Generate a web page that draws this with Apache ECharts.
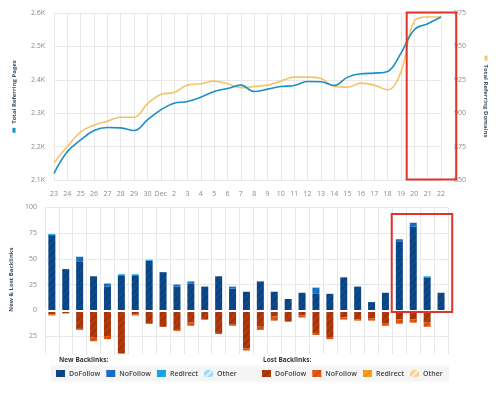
<!DOCTYPE html>
<html>
<head>
<meta charset="utf-8">
<script src="https://cdn.jsdelivr.net/npm/echarts@6/dist/echarts.min.js"></script>
<style>
html,body{margin:0;padding:0;background:#fff;}
#c{width:500px;height:395px;}
</style>
</head>
<body>
<div id="c"></div>
<script>
// ---- data ----
var days = ['23','24','25','26','27','28','29','30','Dec','2','3','4','5','6','7','8','9','10','11','12','13','14','15','16','17','18','19','20','21','22'];
var barDays = ['23','24','25','26','27','28','29','30','Dec','2','3','4','5','6','7','8','9','10','11','12','13','14','15','16','17','18','19','20','21'];
var referringPages = [2120,2185,2220,2248,2257,2256,2248,2280,2310,2330,2335,2348,2365,2374,2384,2365,2372,2380,2383,2395,2394,2383,2408,2418,2420,2425,2480,2550,2568,2588];
var referringDomains = [863,875,886,891,894,897,897,907,914,915.5,921,922,924,922,919,920,921,924,927,927,926,920,919.5,922.5,921,917.5,931,969,972,972];
var newDoFollow  = [73,40,47,33,23,34,34,48,37,23,26,23,33,21,18,28,18,11,17,16,16,32,23,8,17,67,81,32,17];
var newNoFollow  = [0,0,5,0,3,0,0,0,0,2,2,0,0,2,0,0,0,0,0,6,0,0,0,0,0,2,4,0,0];
var newRedirect  = [1,0,0,0,0,1,1,1,0,0,0,0,0,0,0,0,0,0,0,0,0,0,0,0,0,0,0,1,0];
var newOther     = [0,0,0,0,0,0,0,0,0,0,0,0,0,0,0,0,0,0,0,0,0,0,0,0,0,0,0,0,0];
var lostDoFollow = [-4,-3,-18,-26,-25,-42,-4,-13,-16,-19,-12,-9,-22,-14,-37,-16,-6,-11,-5,-22,-26,-7,-9,-8,-13,-9,-9,-12,-2];
var lostNoFollow = [-1,0,-1,-4,-3,0,-1,0,0,-1,-3,0,-1,-1,-2,-3,-4,0,-2,-2,-2,-2,-1,-2,-2,-4,-3,-4,0];
var lostRedirect = [0,0,0,0,0,0,0,0,0,0,0,0,0,0,0,0,0,0,0,0,0,0,0,0,0,0,0,0,0];
var lostOther    = [0,0,0,0,0,0,0,0,0,0,0,0,0,0,0,0,0,0,0,0,0,0,0,0,0,0,0,0,0];
var leftTicks = ['2.1K','2.2K','2.3K','2.4K','2.5K','2.6K'];

var chart = echarts.init(document.getElementById('c'), null, {renderer:'canvas'});
var FONT = '"Open Sans", sans-serif';
var gridLine = {show:true, lineStyle:{color:'#e8e8e8', width:1}};
var labelStyle = {color:'#8a8a8a', fontSize:7, fontFamily:FONT};
var nameStyle = {color:'#3d5468', fontSize:6, fontWeight:'bold', fontFamily:FONT};

function hatch(c){ return {symbol:'rect', symbolSize:1, dashArrayX:[1,0], dashArrayY:[1.5,2.5], rotation:-Math.PI/4, color:c}; }

function barSeries(name, data, stack, color, decal){
  var s = {name:name, type:'bar', xAxisIndex:1, yAxisIndex:2, stack:stack, data:data,
    barWidth:7, barGap:'-100%', itemStyle:{color:color}, emphasis:{disabled:true}};
  if (decal) s.itemStyle.decal = decal;
  return s;
}
var legendText = {color:'#444', fontSize:7, fontWeight:600, fontFamily:FONT};

var option = {
  animation:false,
  textStyle:{fontFamily:FONT},
  grid:[
    {left:43, right:52, top:13, height:167, containLabel:false},
    {left:43, right:52, top:207.3, height:154.5, containLabel:false}
  ],
  xAxis:[
    {type:'category', gridIndex:0, data:days, boundaryGap:false,
     axisLine:{show:false}, axisTick:{show:false},
     axisLabel:Object.assign({interval:0, margin:10}, labelStyle),
     splitLine:gridLine},
    {type:'category', gridIndex:1, data:barDays, boundaryGap:true,
     axisLine:{show:true, onZero:true, lineStyle:{color:'#ffffff', width:2}}, z:10,
     axisTick:{show:false}, axisLabel:{show:false},
     splitLine:Object.assign({interval:0}, gridLine)}
  ],
  yAxis:[
    {type:'value', gridIndex:0, min:2100, max:2600, interval:100,
     axisLine:{show:false}, axisTick:{show:false},
     axisLabel:Object.assign({margin:9, formatter:function(v){ return leftTicks[Math.round((v-2100)/100)]; }}, labelStyle),
     splitLine:gridLine,
     name:'{m|}{t|Total Referring Pages}', nameLocation:'middle', nameGap:33, nameRotate:90,
     nameTextStyle:{rich:{m:{backgroundColor:'#1b8fc6', width:5, height:3}, t:Object.assign({padding:[0,0,0,4]}, nameStyle)}}},
    {type:'value', gridIndex:0, min:850, max:975, interval:25, position:'right',
     axisLine:{show:false}, axisTick:{show:false},
     axisLabel:Object.assign({margin:13}, labelStyle),
     splitLine:{show:false},
     name:'{m|}{t|Total Referring Domains}', nameLocation:'middle', nameGap:42, nameRotate:-90,
     nameTextStyle:{rich:{m:{backgroundColor:'#f5c46a', width:5, height:3}, t:Object.assign({padding:[0,0,0,4]}, nameStyle)}}},
    {type:'value', gridIndex:1, min:-50, max:100, interval:25,
     axisLine:{show:false}, axisTick:{show:false},
     axisLabel:Object.assign({margin:8, showMinLabel:false, formatter:function(v){ return Math.abs(v); }}, labelStyle),
     splitLine:gridLine,
     name:'New & Lost Backlinks', nameLocation:'middle', nameGap:30, nameRotate:90,
     nameTextStyle:Object.assign({padding:[0,0,0,10]}, nameStyle)}
  ],
  legend:[
    {left:56, top:370, padding:0, itemWidth:9, itemHeight:7, itemGap:6, icon:'rect',
     textStyle:Object.assign({padding:[0,0,0,-1]}, legendText),
     formatter:function(n){ return n.replace(/^(New|Lost) /,''); },
     data:['New DoFollow','New NoFollow','New Redirect','New Other'], selectedMode:false},
    {left:262, top:370, padding:0, itemWidth:9, itemHeight:7, itemGap:6, icon:'rect',
     textStyle:Object.assign({padding:[0,0,0,-1]}, legendText),
     formatter:function(n){ return n.replace(/^(New|Lost) /,''); },
     data:['Lost DoFollow','Lost NoFollow','Lost Redirect','Lost Other'], selectedMode:false}
  ],
  graphic:[
    {type:'rect', z:50, shape:{x:0, y:354.5, width:500, height:10}, style:{fill:'#ffffff'}},
    {type:'rect', z:-10, shape:{x:51, y:365.5, width:398, height:16}, style:{fill:'#f5f5f5'}},
    {type:'text', z:60, left:59, top:356.5, style:{text:'New Backlinks:', fill:'#333', font:'bold 6.5px "Open Sans", sans-serif'}},
    {type:'text', z:60, left:263, top:356.5, style:{text:'Lost Backlinks:', fill:'#333', font:'bold 6.5px "Open Sans", sans-serif'}},
    {type:'rect', z:100, shape:{x:406.7, y:12.5, width:49.5, height:167}, style:{fill:'none', stroke:'#e0332b', lineWidth:2}},
    {type:'rect', z:100, shape:{x:391.7, y:214, width:60.5, height:98}, style:{fill:'none', stroke:'#e0332b', lineWidth:2}}
  ],
  series:[
    {name:'Total Referring Domains', type:'line', xAxisIndex:0, yAxisIndex:1, data:referringDomains,
     smooth:0.4, symbol:'none', lineStyle:{color:'#f5c46a', width:1.6}, itemStyle:{color:'#f5c46a'}},
    {name:'Total Referring Pages', type:'line', xAxisIndex:0, yAxisIndex:0, data:referringPages,
     smooth:0.4, symbol:'none', lineStyle:{color:'#1b8fc6', width:1.6}, itemStyle:{color:'#1b8fc6'}},
    barSeries('New DoFollow', newDoFollow, 'new', '#0c4a8c', hatch('rgba(0,0,0,0.12)')),
    barSeries('New NoFollow', newNoFollow, 'new', '#1a72c9', hatch('rgba(0,0,0,0.10)')),
    barSeries('New Redirect', newRedirect, 'new', '#14aaeb', hatch('rgba(0,0,0,0.08)')),
    barSeries('New Other', newOther, 'new', '#9fd8f2', hatch('rgba(255,255,255,0.7)')),
    barSeries('Lost DoFollow', lostDoFollow, 'lost', '#b4390b', hatch('rgba(0,0,0,0.12)')),
    barSeries('Lost NoFollow', lostNoFollow, 'lost', '#e5560f', hatch('rgba(0,0,0,0.10)')),
    barSeries('Lost Redirect', lostRedirect, 'lost', '#f5a11b', hatch('rgba(0,0,0,0.08)')),
    barSeries('Lost Other', lostOther, 'lost', '#f4d290', hatch('rgba(255,255,255,0.7)'))
  ]
};
chart.setOption(option);
</script>
</body>
</html>
